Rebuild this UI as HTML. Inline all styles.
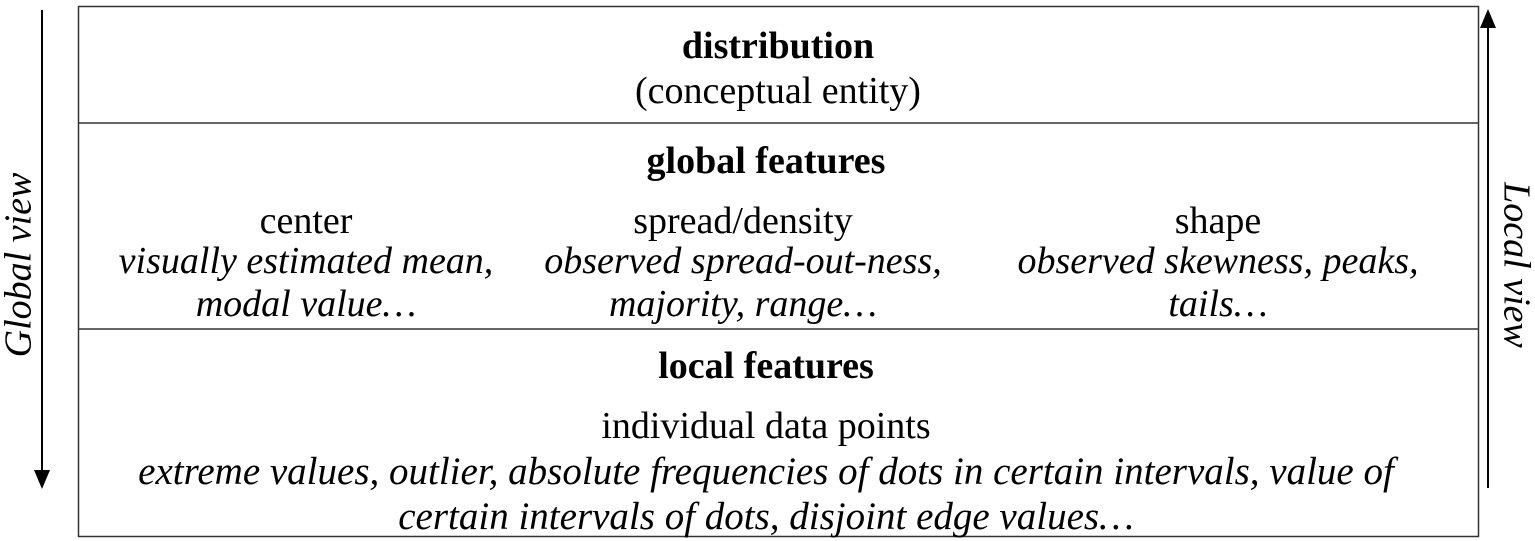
<!DOCTYPE html>
<html><head><meta charset="utf-8"><style>
body{margin:0;width:1535px;height:541px;background:#fff;position:relative;overflow:hidden;font-family:"Liberation Serif",serif;color:#000}
.t{position:absolute;left:66px;width:1400px;text-align:center;font-size:38px;line-height:1;white-space:nowrap}
.b{font-weight:bold}.i{font-style:italic}
.c{position:absolute;width:600px;text-align:center;font-size:38px;line-height:1;white-space:nowrap}
</style></head><body>
<svg width="1535" height="541" style="position:absolute;left:0;top:0">
<rect x="78.5" y="6.5" width="1400" height="530" fill="none" stroke="#333" stroke-width="1.5"/>
<line x1="78" y1="123" x2="1478" y2="123" stroke="#333" stroke-width="1.5"/>
<line x1="78" y1="329" x2="1478" y2="329" stroke="#333" stroke-width="1.5"/>
<line x1="42" y1="10" x2="42" y2="472" stroke="#000" stroke-width="2"/>
<polygon points="34,470 50,470 42,489" fill="#000"/>
<line x1="1488" y1="26" x2="1488" y2="488" stroke="#000" stroke-width="2"/>
<polygon points="1480,28 1496,28 1488,9" fill="#000"/>
<text x="22" y="265" transform="rotate(-90 22 265)" text-anchor="middle" dominant-baseline="middle" font-family="Liberation Serif" font-style="italic" font-size="38">Global view</text>
<text x="1513" y="265" transform="rotate(90 1513 265)" text-anchor="middle" dominant-baseline="middle" font-family="Liberation Serif" font-style="italic" font-size="38">Local view</text>
</svg>
<div class="t b" style="top:27px;left:78px">distribution</div>
<div class="t" style="top:72px;left:78px">(conceptual entity)</div>
<div class="t b" style="top:142px">global features</div>
<div class="c" style="left:6px;top:202px">center<br><span class="i" style="line-height:43px">visually estimated mean,<br>modal value…</span></div>
<div class="c" style="left:443px;top:202px">spread/density<br><span class="i" style="line-height:43px">observed spread-out-ness,<br>majority, range…</span></div>
<div class="c" style="left:918px;top:202px">shape<br><span class="i" style="line-height:43px">observed skewness, peaks,<br>tails…</span></div>
<div class="t b" style="top:347px">local features</div>
<div class="t" style="top:407px">individual data points</div>
<div class="t i" style="top:449px;line-height:45px;font-size:39px">extreme values, outlier, absolute frequencies of dots in certain intervals, value of<br>certain intervals of dots, disjoint edge values…</div>
</body></html>
